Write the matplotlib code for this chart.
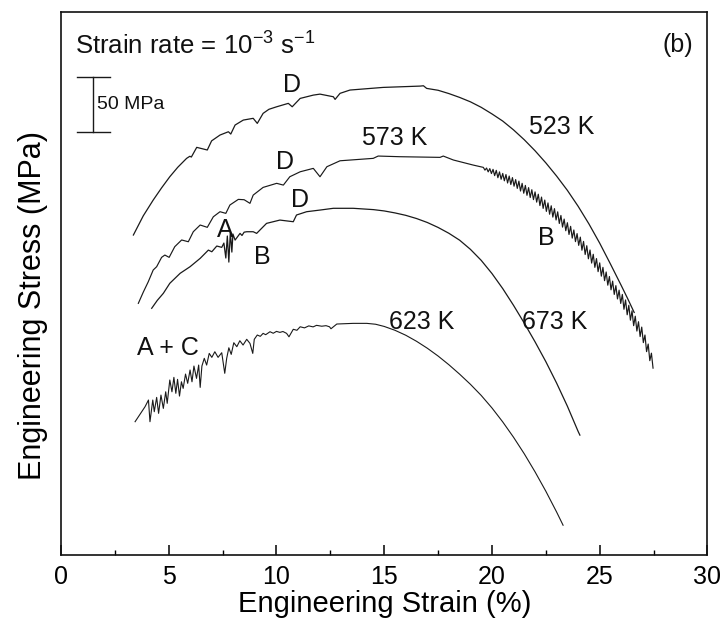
import numpy as np
import matplotlib
matplotlib.use("Agg")
import matplotlib.pyplot as plt

plt.rcParams['font.family'] = ['Liberation Sans', 'DejaVu Sans']
plt.rcParams['mathtext.fontset'] = 'custom'
plt.rcParams['mathtext.rm'] = 'Liberation Sans'

# ---------------- data (strain %, stress MPa; curves offset vertically for clarity) ----------------
strain_523 = [3.36, 3.82, 4.28, 4.67, 5.05, 5.42, 5.83, 5.98, 6.05, 6.30, 6.79, 6.99, 7.38, 7.77,
              7.88, 8.08, 8.46, 8.92, 9.11, 9.38, 9.65, 10.01, 10.55, 10.73, 11.10, 11.71, 12.02,
              12.64, 12.72, 12.95, 13.41, 14.95, 16.67, 16.82, 16.97, 17.5, 18.0, 18.5, 19.0,
              19.5, 20.0, 20.5, 21.0, 21.5, 22.0, 22.5, 23.0, 23.5, 24.0, 24.5, 25.0, 25.5,
              26.0, 26.3, 26.6]
stress_523 = [290.9, 308.4, 322.7, 333.8, 343.9, 352.5, 360.6, 362.5, 361.8, 370.6, 368.2, 376.5,
              381.8, 384.8, 382.7, 390.9, 395.4, 397.0, 392.4, 401.5, 405.2, 407.5, 410.6, 407.5,
              415.1, 418.1, 419.0, 416.6, 414.2, 419.7, 422.7, 425.1, 426.3, 426.6, 424.2, 422.5,
              419.5, 416.0, 412.0, 407.0, 401.0, 394.5, 386.5, 377.5, 367.5, 356.5, 344.5, 331.5,
              317.0, 301.0, 283.5, 264.5, 245.0, 233.0, 220.5]

strain_573 = [3.59, 3.82, 4.05, 4.28, 4.44, 4.67, 4.82, 5.02, 5.28, 5.60, 5.91, 6.14, 6.46, 6.79,
              7.07, 7.38, 7.65, 7.84, 8.23, 8.50, 8.77, 8.92, 9.38, 10.01, 10.32, 10.62, 11.10,
              11.71, 12.02, 12.34, 12.95, 14.49, 14.72, 15.73, 17.59, 17.74, 18.21, 19.13]
stress_573 = [228.8, 239.0, 248.4, 259.1, 262.1, 270.6, 272.7, 270.6, 280.3, 286.4, 284.8, 293.9,
              300.0, 297.9, 307.5, 312.1, 310.6, 318.2, 323.3, 323.0, 319.7, 327.2, 334.2, 337.9,
              336.3, 343.9, 348.4, 351.5, 343.9, 353.0, 358.4, 360.6, 362.7, 362.1, 361.5, 362.7,
              359.1, 354.5]
# type-B serrations on the 573 K curve: peak (strain, stress) and following trough (strain, stress)
serr_peak_strain = [19.6, 19.75, 19.9, 20.05, 20.2, 20.35, 20.5, 20.65, 20.8, 20.95, 21.1, 21.25,
                    21.4, 21.55, 21.7, 21.85, 22.0, 22.15, 22.3, 22.45, 22.6, 22.75, 22.9, 23.05,
                    23.2, 23.35, 23.5, 23.65, 23.8, 23.95, 24.1, 24.25, 24.4, 24.55, 24.7, 24.85,
                    25.0, 25.15, 25.3, 25.45, 25.6, 25.75, 25.9, 26.05, 26.2, 26.35, 26.5, 26.65,
                    26.8, 26.95, 27.1, 27.25, 27.4]
serr_peak_stress = [352.4, 351.8, 351.3, 350.6, 349.7, 348.3, 346.9, 345.9, 344.5, 343.1, 341.3, 339.9,
                    337.9, 336.0, 334.0, 332.1, 330.1, 328.0, 325.4, 322.7, 320.1, 317.5, 314.9, 312.0,
                    308.7, 305.4, 302.1, 298.8, 295.5, 292.2, 289.0, 285.1, 281.2, 277.3, 273.4, 269.5,
                    265.6, 261.5, 257.3, 253.2, 249.0, 244.9, 240.8, 236.9, 231.9, 227.0, 222.0, 217.1,
                    212.1, 207.2, 200.0, 191.8, 183.5]
serr_trough_strain = [19.675, 19.825, 19.975, 20.125, 20.275, 20.425, 20.575, 20.725, 20.875, 21.025,
                      21.175, 21.325, 21.475, 21.625, 21.775, 21.925, 22.075, 22.225, 22.375, 22.525,
                      22.675, 22.825, 22.975, 23.125, 23.275, 23.425, 23.575, 23.725, 23.875, 24.025,
                      24.175, 24.325, 24.475, 24.625, 24.775, 24.925, 25.075, 25.225, 25.375, 25.525,
                      25.675, 25.825, 25.975, 26.125, 26.275, 26.425, 26.575, 26.725, 26.875, 27.025,
                      27.175, 27.325, 27.475]
serr_trough_stress = [349.9, 348.3, 346.8, 344.9, 343.0, 341.6, 340.2, 338.2, 336.8, 335.3, 333.3, 330.9,
                      328.9, 327.0, 325.0, 323.1, 320.8, 317.7, 315.1, 312.4, 309.8, 307.2, 304.6, 301.4,
                      298.1, 294.8, 291.4, 288.1, 284.9, 281.5, 277.1, 273.2, 269.3, 265.4, 261.5, 257.6,
                      253.5, 249.4, 245.3, 241.1, 236.9, 232.8, 228.7, 223.4, 218.4, 213.5, 208.5, 203.6,
                      198.6, 193.1, 184.9, 176.7, 169.9]

strain_673 = [4.21, 4.47, 4.75, 5.05, 5.53, 5.99, 6.46, 6.84, 7.00, 7.23, 7.46, 7.56, 7.65, 7.72,
              7.79, 7.86, 7.93, 7.98, 8.08, 8.31, 8.40, 8.50, 8.62, 8.92, 9.08, 9.54, 10.16, 10.78,
              10.93, 11.40, 12.02, 12.64, 13.56, 14.5, 15.0, 15.5, 16.0, 16.5, 17.0, 17.5, 18.0,
              18.5, 19.0, 19.5, 20.0, 20.5, 21.0, 21.5, 22.0, 22.5, 23.0, 23.5, 24.0, 24.08]
stress_673 = [224.3, 231.5, 237.9, 247.0, 256.1, 262.1, 269.7, 277.2, 275.7, 280.9, 279.7, 283.6,
              270.0, 290.0, 266.3, 293.6, 275.4, 291.8, 286.3, 292.4, 290.5, 293.5, 293.9, 293.9,
              292.4, 301.5, 304.5, 303.0, 309.1, 312.1, 313.6, 315.2, 315.2, 314.0, 312.8, 311.0,
              308.8, 305.9, 302.3, 297.8, 292.5, 286.2, 277.9, 267.9, 255.9, 242.2, 227.0, 210.8,
              193.8, 175.8, 156.3, 135.3, 112.3, 109.0]

strain_623 = [3.44, 3.90, 4.06, 4.13, 4.26, 4.33, 4.44, 4.53, 4.64, 4.75, 4.86, 4.93, 5.05, 5.15,
              5.24, 5.33, 5.41, 5.50, 5.59, 5.67, 5.78, 5.88, 5.99, 6.08, 6.17, 6.29, 6.39, 6.46,
              6.54, 6.65, 6.76, 6.88, 7.00, 7.14, 7.29, 7.46, 7.60, 7.69, 7.79, 7.90, 8.02, 8.16,
              8.30, 8.45, 8.62, 8.77, 8.90, 8.97, 9.11, 9.25, 9.38, 9.50, 9.70, 9.85, 10.00, 10.16,
              10.30, 10.47, 10.58, 10.78, 10.95, 11.10, 11.30, 11.50, 11.70, 11.86, 12.10, 12.30,
              12.46, 12.53, 12.80, 13.56, 14.19, 14.6, 15.0, 15.5, 16.0, 16.5, 17.0, 17.5, 18.0,
              18.5, 19.0, 19.5, 20.0, 20.5, 21.0, 21.5, 22.0, 22.5, 23.0, 23.3]
stress_623 = [121.2, 134.8, 140.9, 121.2, 140.9, 130.3, 143.3, 128.8, 145.4, 133.3, 148.4, 137.9,
              159.1, 148.4, 161.5, 147.0, 159.7, 144.5, 157.5, 151.5, 164.5, 156.1, 168.2, 157.5,
              171.8, 160.6, 172.7, 152.4, 171.8, 178.8, 172.7, 183.3, 179.7, 184.8, 179.7, 183.9,
              165.2, 178.8, 188.4, 182.4, 193.0, 189.4, 194.8, 190.9, 196.1, 192.4, 183.3, 196.1,
              200.0, 198.8, 201.5, 200.3, 203.0, 201.6, 203.3, 202.4, 203.2, 201.5, 198.4, 205.2,
              204.3, 207.5, 206.5, 208.3, 207.4, 208.8, 208.0, 208.5, 207.5, 205.7, 210.0, 210.6,
              210.6, 209.8, 207.8, 204.3, 199.8, 194.3, 188.0, 180.9, 173.0, 164.4, 155.2, 145.1,
              133.7, 121.0, 107.1, 92.0, 75.6, 58.0, 39.1, 27.1]

# annotations: (text, strain, stress)
labels = [("D", 10.72, 427.2), ("523 K", 23.25, 389.0), ("573 K", 15.50, 379.0),
          ("D", 10.39, 357.2), ("D", 11.09, 322.7), ("A", 7.61, 295.4), ("B", 9.33, 270.9),
          ("B", 22.51, 288.2), ("673 K", 22.92, 211.8), ("623 K", 16.75, 211.8),
          ("A + C", 4.97, 188.2)]

x_ticks = [0, 5, 10, 15, 20, 25, 30]

# ---------------- figure ----------------
fig = plt.figure(figsize=(7.25, 6.28), dpi=100)
ax = fig.add_axes([0.0841, 0.1162, 0.8917, 0.8646])
lc = '#1a1a1a'

ax.plot(strain_523, stress_523, color=lc, lw=0.9)

sx = list(strain_573)
sy = list(stress_573)
for xp, yp, xt, yt in zip(serr_peak_strain, serr_peak_stress, serr_trough_strain, serr_trough_stress):
    sx += [xp, xt]
    sy += [yp, yt]
ax.plot(sx, sy, color=lc, lw=0.85)

ax.plot(strain_673, stress_673, color=lc, lw=0.9)
ax.plot(strain_623, stress_623, color=lc, lw=0.8)

for t, x, y in labels:
    ax.text(x, y, t, fontsize=18, ha='center', va='center', color='#111111')

ax.text(0.65, 463.6, r"Strain rate = 10$^{\mathregular{-3}}$ s$^{\mathregular{-1}}$",
        fontsize=18.5, ha='left', va='center', color='#111111')
ax.text(28.63, 463.6, "(b)", fontsize=18, ha='center', va='center', color='#111111')

# 50 MPa scale bar
ax.plot([1.48, 1.48], [384.5, 434.5], color=lc, lw=1.0)
ax.plot([0.74, 2.27], [434.5, 434.5], color=lc, lw=1.0)
ax.plot([0.74, 2.27], [384.5, 384.5], color=lc, lw=1.0)
ax.text(1.67, 410.0, "50 MPa", fontsize=14, ha='left', va='center', color='#111111')

ax.set_xlim(0, 30)
ax.set_ylim(0, 493.6)
ax.set_xticks(x_ticks)
ax.set_xticks(np.arange(0, 30.1, 2.5), minor=True)
ax.set_yticks([])
ax.tick_params(axis='x', which='major', direction='in', length=7, width=1.1,
               labelsize=18, pad=7, top=False)
ax.tick_params(axis='x', which='minor', direction='in', length=3.5, width=1.0, top=False)
for s in ax.spines.values():
    s.set_linewidth(1.2)
    s.set_color('#111111')

ax.set_xlabel("Engineering Strain (%)", fontsize=21, labelpad=1)
ax.set_ylabel("Engineering Stress (MPa)", fontsize=22)
ax.yaxis.set_label_coords(-0.02, 0.46)

fig.savefig("out.png", dpi=100)
